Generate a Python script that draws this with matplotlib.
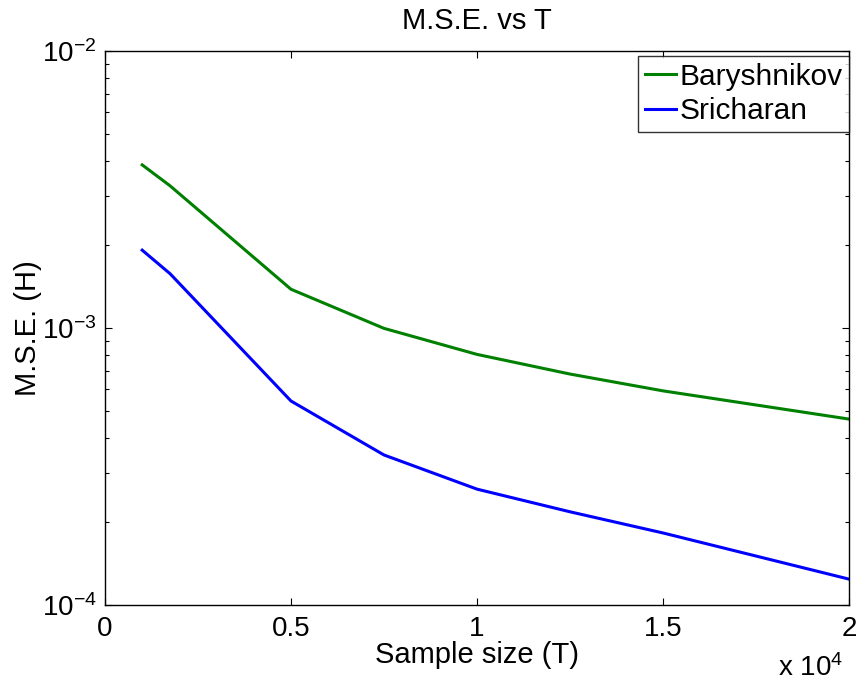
import matplotlib
matplotlib.use("Agg")
import matplotlib.pyplot as plt
from matplotlib.ticker import FixedLocator, FixedFormatter, LogLocator

plt.rcParams['font.family'] = ['Liberation Sans', 'DejaVu Sans']
plt.rcParams['mathtext.fontset'] = 'custom'
plt.rcParams['mathtext.rm'] = 'Liberation Sans'
plt.rcParams['mathtext.it'] = 'Liberation Sans:italic'

# Data
sample_size = [1000, 1750, 5000, 7500, 10000, 12500, 15000, 20000]
baryshnikov = [3.88e-3, 3.26e-3, 1.38e-3, 9.97e-4, 8.03e-4, 6.82e-4, 5.93e-4, 4.69e-4]
sricharan = [1.91e-3, 1.57e-3, 5.45e-4, 3.48e-4, 2.62e-4, 2.17e-4, 1.82e-4, 1.24e-4]
series_names = ["Baryshnikov", "Sricharan"]
x_ticks = [0, 5000, 10000, 15000, 20000]
x_tick_labels = ["0", "0.5", "1", "1.5", "2"]

FS = 21

fig = plt.figure(figsize=(8.57, 6.84), dpi=100)
ax = fig.add_axes([105/857, 1 - 605/684, (849-105)/857, (605-51)/684])

ax.plot(sample_size, baryshnikov, color=(0, 0.5, 0), lw=2.2, label=series_names[0])
ax.plot(sample_size, sricharan, color=(0, 0, 1), lw=2.2, label=series_names[1])

ax.set_yscale('log')
ax.set_xlim(0, 20000)
ax.set_ylim(1e-4, 1e-2)
ax.xaxis.set_major_locator(FixedLocator(x_ticks))
ax.xaxis.set_major_formatter(FixedFormatter(x_tick_labels))
ax.yaxis.set_major_locator(LogLocator(base=10, numticks=10))
ax.yaxis.set_minor_locator(LogLocator(base=10, subs=range(2, 10), numticks=20))

ax.tick_params(which='both', direction='in', top=True, right=True, labelsize=20, width=0.8)
ax.tick_params(which='major', length=5)
ax.tick_params(which='minor', length=3)
ax.tick_params(axis='x', pad=8)
ax.tick_params(axis='y', pad=6)
for s in ax.spines.values():
    s.set_linewidth(1.0)

ax.set_title("M.S.E. vs T", fontsize=FS, pad=16)
ax.set_xlabel("Sample size (T)", fontsize=FS, labelpad=-1)
ax.set_ylabel("M.S.E. (H)", fontsize=FS, labelpad=0)

ax.text(0.992, -0.139, r"x 10$^{4}$", transform=ax.transAxes, fontsize=20,
        ha='right', va='bottom')

leg = ax.legend(loc='upper right', bbox_to_anchor=(1.0, 1 - 5/554),
                fontsize=21.5, frameon=True, fancybox=False,
                edgecolor='black', borderaxespad=0, borderpad=0.22,
                handlelength=1.05, handletextpad=0.1, labelspacing=0.22)
leg.get_frame().set_linewidth(1.0)

fig.savefig("out.png", dpi=100)
